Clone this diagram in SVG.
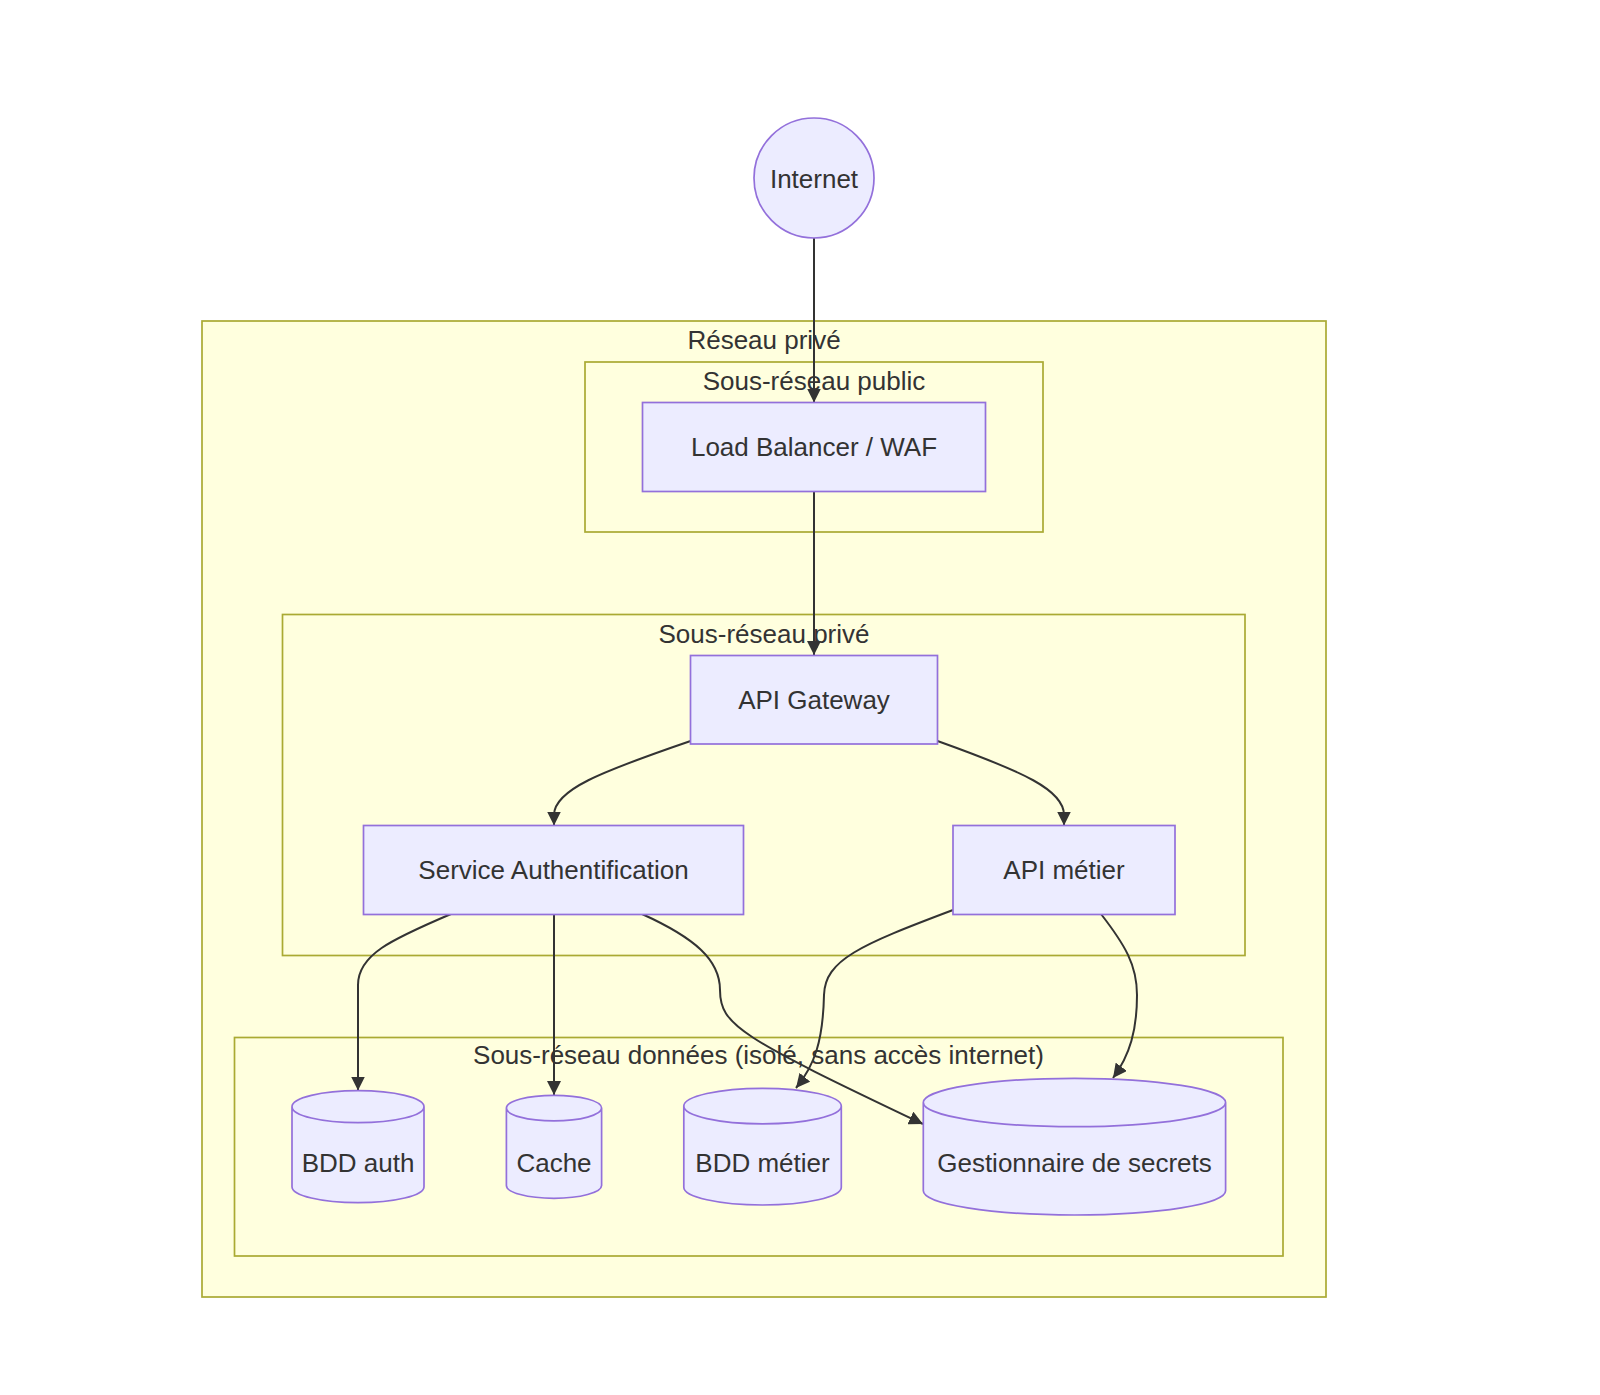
<svg xmlns="http://www.w3.org/2000/svg" width="1600" height="1395" viewBox="0 0 1600 1395">
<style>
.cluster{fill:#ffffde;stroke:#aaaa33;stroke-width:1.7}
.node{fill:#ececff;stroke:#9370db;stroke-width:1.7}
.lbl{font-family:"Liberation Sans",Arial,sans-serif;font-size:26px;fill:#333;text-anchor:middle}
.edge{fill:none;stroke:#333;stroke-width:2}
</style>
<defs>
<marker id="arr" viewBox="0 0 10 10" refX="10" refY="5" markerUnits="userSpaceOnUse" markerWidth="14" markerHeight="14" orient="auto">
<path d="M0,0 L10,5 L0,10 z" fill="#333"/>
</marker>
</defs>
<rect width="1600" height="1395" fill="#ffffff"/>
<g id="cluster-reseau-prive">
<rect class="cluster" x="202" y="321" width="1124" height="976"/>
<text class="lbl" x="764" y="349">Réseau privé</text>
</g>
<g id="cluster-sous-reseau-public">
<rect class="cluster" x="585" y="362" width="458" height="170"/>
<text class="lbl" x="814" y="390">Sous-réseau public</text>
</g>
<g id="cluster-sous-reseau-prive">
<rect class="cluster" x="282.5" y="614.5" width="962.5" height="341"/>
<text class="lbl" x="764" y="643">Sous-réseau privé</text>
</g>
<g id="cluster-sous-reseau-donnees">
<rect class="cluster" x="234.5" y="1037.5" width="1048.5" height="218.5"/>
<text class="lbl" x="758.5" y="1064">Sous-réseau données (isolé, sans accès internet)</text>
</g>
<g id="connectors">
<path class="edge" d="M814,238 L814,402.5" marker-end="url(#arr)"/>
<path class="edge" d="M814,492 L814,655" marker-end="url(#arr)"/>
<path class="edge" d="M690.6,741 C600,772 554,790 554,815 L554,825.5" marker-end="url(#arr)"/>
<path class="edge" d="M937.5,741 C1024,772 1064,790 1064,815 L1064,825.5" marker-end="url(#arr)"/>
<path class="edge" d="M451,914 C390,940 358,955 358,985 L358,1090.5" marker-end="url(#arr)"/>
<path class="edge" d="M554,914 L554,1095" marker-end="url(#arr)"/>
<path class="edge" d="M642,914 C695,938 720,960 720,990 C720,1025 740,1037 923,1124" marker-end="url(#arr)"/>
<path class="edge" d="M953,910 C860,945 825,960 824,995 C823,1040 815,1065 796,1088" marker-end="url(#arr)"/>
<path class="edge" d="M1101,914 C1125,945 1137,965 1137,995 C1137,1030 1130,1055 1113,1078" marker-end="url(#arr)"/>
</g>
<g id="node-internet">
<circle class="node" cx="814" cy="178" r="60"/>
<text class="lbl" x="814" y="187.5">Internet</text>
</g>
<g id="node-lb">
<rect class="node" x="642.5" y="402.5" width="343" height="89"/>
<text class="lbl" x="814" y="456">Load Balancer / WAF</text>
</g>
<g id="node-gateway">
<rect class="node" x="690.5" y="655.5" width="247" height="88.5"/>
<text class="lbl" x="814" y="709">API Gateway</text>
</g>
<g id="node-auth">
<rect class="node" x="363.5" y="825.5" width="380" height="89"/>
<text class="lbl" x="553.5" y="879">Service Authentification</text>
</g>
<g id="node-api-metier">
<rect class="node" x="953" y="825.5" width="222" height="89"/>
<text class="lbl" x="1064" y="879">API métier</text>
</g>
<g id="node-bdd-auth">
<path class="node" d="M292,1106.7 a66,16 0 0 0 132,0 a66,16 0 0 0 -132,0 l0,80 a66,16 0 0 0 132,0 l0,-80"/>
<text class="lbl" x="358" y="1171.5">BDD auth</text>
</g>
<g id="node-cache">
<path class="node" d="M506.4,1108.1 a47.6,12.8 0 0 0 95.2,0 a47.6,12.8 0 0 0 -95.2,0 l0,77.4 a47.6,12.8 0 0 0 95.2,0 l0,-77.4"/>
<text class="lbl" x="554" y="1171.5">Cache</text>
</g>
<g id="node-bdd-metier">
<path class="node" d="M683.8,1106.1 a78.75,17.8 0 0 0 157.5,0 a78.75,17.8 0 0 0 -157.5,0 l0,81.1 a78.75,17.8 0 0 0 157.5,0 l0,-81.1"/>
<text class="lbl" x="762.5" y="1171.5">BDD métier</text>
</g>
<g id="node-secrets">
<path class="node" d="M923.3,1102.5 a151.15,24.2 0 0 0 302.3,0 a151.15,24.2 0 0 0 -302.3,0 l0,88.3 a151.15,24.2 0 0 0 302.3,0 l0,-88.3"/>
<text class="lbl" x="1074.5" y="1171.5">Gestionnaire de secrets</text>
</g>
</svg>
